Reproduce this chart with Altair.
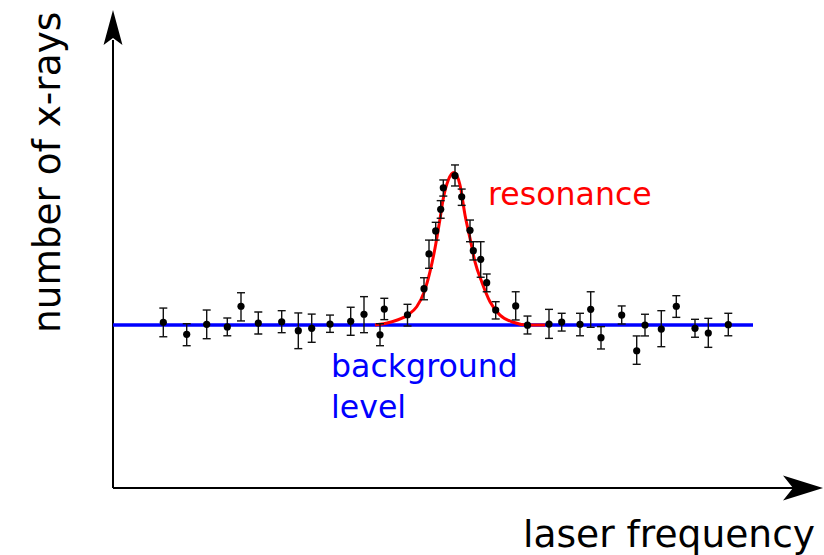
import altair as alt
import pandas as pd

# ---------------- data ----------------
freq = [5.03, 7.37, 9.37, 11.43, 12.8, 14.53, 16.87, 18.53, 19.87, 21.7,
        23.77, 25.1, 26.7, 27.13, 29.45, 31.1, 31.6, 32.27, 32.77, 33.03,
        34.2, 34.87, 35.7, 36.03, 36.77, 37.37, 38.27, 40.27, 41.45, 43.6,
        44.87, 46.7, 47.77, 48.8, 50.87, 52.37, 53.2, 54.83, 56.33, 58.2,
        59.53, 61.53]
counts = [101.7, 94.3, 100.4, 98.8, 111.5, 101.2, 102.0, 96.5, 98.0, 100.6,
          102.3, 106.6, 94.0, 109.8, 106.3, 122.3, 143.6, 157.7, 171.0, 184.2,
          191.6, 178.7, 158.1, 145.6, 140.3, 126.0, 109.2, 111.7, 99.9, 100.6,
          101.8, 100.4, 109.6, 92.2, 106.1, 84.2, 100.0, 97.5, 111.5, 98.0,
          95.1, 100.2]
err_hi = [110.4, 100.8, 109.2, 104.3, 119.8, 108.0, 108.8, 107.4, 106.7, 106.1,
          110.9, 117.4, 100.8, 116.4, 112.7, 129.0, 152.1, 163.0, 176.3, 189.0,
          198.2, 183.4, 164.4, 151.1, 151.1, 131.3, 114.3, 120.4, 105.5, 109.6,
          107.2, 107.2, 120.4, 99.0, 111.7, 93.3, 106.6, 108.8, 118.0, 103.5,
          104.1, 107.2]
err_lo = [92.8, 87.3, 91.6, 93.4, 102.5, 94.5, 95.3, 85.5, 89.4, 95.5,
          93.7, 95.3, 87.3, 103.3, 99.4, 115.5, 134.8, 152.1, 165.5, 179.1,
          185.3, 173.4, 151.1, 139.9, 129.3, 120.4, 103.7, 103.1, 94.5, 91.8,
          96.3, 93.4, 98.6, 85.3, 100.6, 75.9, 93.3, 86.7, 104.7, 92.5,
          86.3, 93.4]

curve_freq = [26.2, 27.7, 29.47, 30.37, 31.13, 31.7, 32.2, 32.63, 33.03, 33.53,
              34.1, 34.7, 35.2, 35.7, 36.2, 36.87, 37.7, 38.7, 40.03, 41.37, 43.2]
curve_counts = [100.0, 101.7, 106.1, 111.2, 120.4, 132.7, 147.1, 162.4, 177.7, 189.0,
                193.6, 185.9, 167.5, 153.2, 138.8, 126.6, 114.3, 106.1, 101.7, 100.0, 100.0]

background = 100.0
bg_range = [0.0, 64.0]

x_title = "laser frequency"
y_title = "number of x-rays"
peak_label = "resonance"
bg_label = ["background", "level"]

# ---------------- scales ----------------
X_DOMAIN = [-11.3, 71.1]
Y_DOMAIN = [-41.1, 299.4]
xs = alt.Scale(domain=X_DOMAIN, nice=False, zero=False)
ys = alt.Scale(domain=Y_DOMAIN, nice=False, zero=False)

pts = pd.DataFrame({"f": freq, "c": counts, "hi": err_hi, "lo": err_lo})
curve = pd.DataFrame({"f": curve_freq, "c": curve_counts})
bg = pd.DataFrame({"f": [bg_range[0]], "f2": [bg_range[1]], "c": [background]})


def X(field="f"):
    return alt.X(f"{field}:Q", scale=xs, axis=None)


def Y(field="c"):
    return alt.Y(f"{field}:Q", scale=ys, axis=None)


# axes with arrows
yaxis = alt.Chart(pd.DataFrame({"f": [0.0], "c": [0.0], "c2": [274.8]})).mark_rule(
    color="black", strokeWidth=2).encode(x=X(), y=Y(), y2="c2:Q")
xaxis = alt.Chart(pd.DataFrame({"f": [0.0], "f2": [68.2], "c": [0.0]})).mark_rule(
    color="black", strokeWidth=2).encode(x=X(), x2="f2:Q", y=Y())

up_arrow = alt.Chart(pd.DataFrame({"f": [0.0], "c": [282.5]})).mark_point(
    shape="M0,-1 L0.54,1 L0,0.6 L-0.54,1 Z", filled=True, size=1225,
    color="black", opacity=1, strokeWidth=0).encode(x=X(), y=Y())
right_arrow = alt.Chart(pd.DataFrame({"f": [69.0], "c": [0.0]})).mark_point(
    shape="M1,0 L-1,-0.62 L-0.5,0 L-1,0.62 Z", filled=True, size=1600,
    color="black", opacity=1, strokeWidth=0).encode(x=X(), y=Y())

bg_line = alt.Chart(bg).mark_rule(color="#0000ff", strokeWidth=3.5).encode(
    x=X(), x2="f2:Q", y=Y())

fit = alt.Chart(curve).mark_line(color="#ff0000", strokeWidth=3,
                                 interpolate="monotone").encode(x=X(), y=Y())

bars = alt.Chart(pts).mark_rule(color="#111111", strokeWidth=1.4).encode(
    x=X(), y=Y("lo"), y2="hi:Q")
cap_hi = alt.Chart(pts).mark_tick(orient="horizontal", size=8, thickness=1.4,
                                  color="#111111", opacity=1).encode(x=X(), y=Y("hi"))
cap_lo = alt.Chart(pts).mark_tick(orient="horizontal", size=8, thickness=1.4,
                                  color="#111111", opacity=1).encode(x=X(), y=Y("lo"))
dots = alt.Chart(pts).mark_circle(size=52, color="black", opacity=1).encode(x=X(), y=Y())

FONT = "DejaVu Sans"
xlab = alt.Chart(pd.DataFrame({"f": [41.0], "c": [-36.2], "t": [x_title]})).mark_text(
    font=FONT, fontSize=37.6, align="left", baseline="alphabetic", color="black").encode(
    x=X(), y=Y(), text="t:N")
ylab = alt.Chart(pd.DataFrame({"f": [-5.3], "c": [95.1], "t": [y_title]})).mark_text(
    font=FONT, fontSize=37.4, align="left", baseline="alphabetic", angle=270,
    color="black").encode(x=X(), y=Y(), text="t:N")
reslab = alt.Chart(pd.DataFrame({"f": [37.5], "c": [173.6], "t": [peak_label]})).mark_text(
    font=FONT, fontSize=31.6, align="left", baseline="alphabetic", color="#ff0000").encode(
    x=X(), y=Y(), text="t:N")
bglab = alt.Chart(pd.DataFrame({"f": [21.8, 21.8], "c": [68.3, 42.8], "t": bg_label})).mark_text(
    font=FONT, fontSize=31.6, align="left", baseline="alphabetic", color="#0000ff").encode(
    x=X(), y=Y(), text="t:N")

chart = alt.layer(
    yaxis, xaxis, up_arrow, right_arrow, bg_line, fit, bars, cap_hi, cap_lo, dots,
    xlab, ylab, reslab, bglab
).properties(
    width=824, height=555, padding=0, autosize=alt.AutoSizeParams(type="none"),
    background="white"
).configure_view(stroke=None)

chart.save("out.html", embed_options={"renderer": "svg", "actions": False})
